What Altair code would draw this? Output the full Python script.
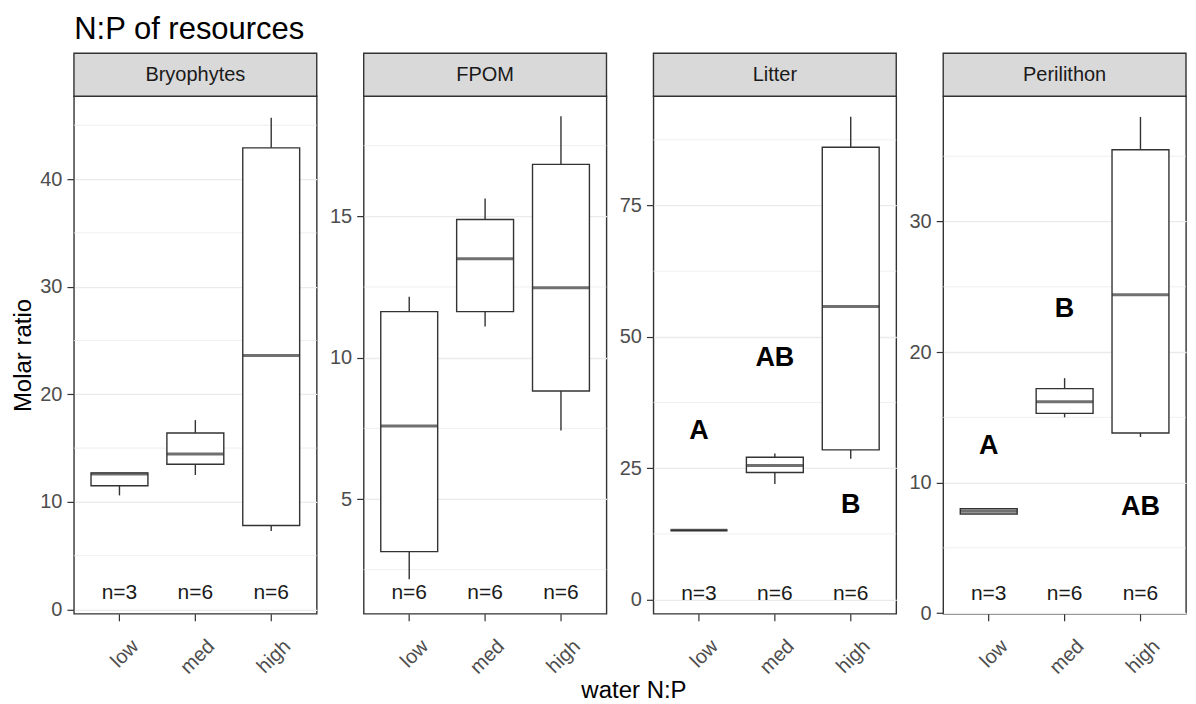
import altair as alt
import pandas as pd

FONT = "Liberation Sans"
groups = ["low", "med", "high"]
panel_names = ["Bryophytes", "FPOM", "Litter", "Perilithon"]

# Box statistics: lower whisker, Q1, median, Q3, upper whisker
bryo_lower = [10.6, 12.5, 7.3]
bryo_q1 = [11.5, 13.5, 7.8]
bryo_median = [12.6, 14.45, 23.6]
bryo_q3 = [12.7, 16.4, 42.9]
bryo_upper = [12.7, 17.6, 45.7]

fpom_lower = [2.16, 11.1, 7.42]
fpom_q1 = [3.14, 11.63, 8.82]
fpom_median = [7.58, 13.5, 12.47]
fpom_q3 = [11.63, 14.89, 16.84]
fpom_upper = [12.16, 15.63, 18.54]

litter_lower = [13.2, 22.0, 26.8]
litter_q1 = [13.2, 24.2, 28.5]
litter_median = [13.2, 25.5, 55.8]
litter_q3 = [13.2, 27.1, 86.1]
litter_upper = [13.2, 27.8, 91.9]

peri_lower = [7.6, 15.0, 13.5]
peri_q1 = [7.6, 15.3, 13.8]
peri_median = [7.8, 16.2, 24.4]
peri_q3 = [8.0, 17.2, 35.5]
peri_upper = [8.0, 18.0, 38.0]

# sample sizes and their label heights
bryo_n = [3, 6, 6]
fpom_n = [6, 6, 6]
litter_n = [3, 6, 6]
peri_n = [3, 6, 6]
n_label_y = [1.54, 1.67, 1.06, 1.5]

# significance letters
litter_letters = ["A", "AB", "B"]
litter_letter_y = [32.0, 45.9, 18.0]
peri_letters = ["A", "B", "AB"]
peri_letter_y = [12.8, 23.3, 8.1]

# axis domains and ticks
domains = [[-0.4, 47.7], [0.94, 19.25], [-2.7, 95.8], [-0.05, 39.6]]
major_ticks = [[0, 10, 20, 30, 40], [5, 10, 15], [0, 25, 50, 75], [0, 10, 20, 30]]
minor_ticks = [[5, 15, 25, 35, 45], [2.5, 7.5, 12.5, 17.5], [12.5, 37.5, 62.5, 87.5], [5, 15, 25, 35]]

W = 243
H = 518
STRIP = 43
GAP = 47
BOX_W = W / 3.2 * 0.75


def make_panel(i, lower, q1, med, q3, upper, ns, letters=None, letter_y=None):
    name = panel_names[i]
    df = pd.DataFrame({
        "group": groups, "lower": lower, "q1": q1, "median": med,
        "q3": q3, "upper": upper,
        "nlab": [f"n={n}" for n in ns],
        "ny": [n_label_y[i]] * 3,
    })
    yscale = alt.Scale(domain=domains[i], nice=False, zero=False)
    xscale = alt.Scale(domain=groups, paddingInner=0.25, paddingOuter=0.225)

    x_axis_kwargs = dict(
        labelAngle=315, labelFontSize=20, labelColor="#4D4D4D", labelFont=FONT,
        tickSize=7, tickColor="#333333", tickWidth=1.2, domain=False, grid=False,
        labelPadding=15, labelOffset=9,
    )
    if i == 1:
        x_axis = alt.Axis(title="water N:P", titleFontSize=24, titleFont=FONT,
                          titleFontWeight="normal", titleColor="#000000",
                          titleX=(635 - 75) - (W + GAP), titleY=84, titleBaseline="alphabetic",
                          titleAlign="center", **x_axis_kwargs)
    else:
        x_axis = alt.Axis(title=None, **x_axis_kwargs)

    y_axis_kwargs = dict(
        values=major_ticks[i], labelFontSize=20, labelColor="#4D4D4D", labelFont=FONT,
        tickSize=7, tickColor="#333333", tickWidth=1.2, domain=False,
        grid=True, gridColor="#EBEBEB", gridWidth=1.3, labelPadding=5,
        minExtent=30, maxExtent=30,
    )
    if i == 0:
        y_axis = alt.Axis(title="Molar ratio", titleFontSize=24, titleFont=FONT,
                          titleFontWeight="normal", titleColor="#000000",
                          titleAngle=270, titleX=-43, titleY=H / 2,
                          titleBaseline="alphabetic", titleAlign="center", **y_axis_kwargs)
    else:
        y_axis = alt.Axis(title=None, **y_axis_kwargs)

    X = alt.X("group:N", scale=xscale, sort=groups, axis=x_axis)

    def Y(field):
        return alt.Y(field, scale=yscale, axis=y_axis)

    base = alt.Chart(df)
    whisk = base.mark_rule(color="#333333", strokeWidth=1.4).encode(
        x=X, y=Y("lower:Q"), y2="upper:Q",
    )
    minor = alt.Chart(pd.DataFrame({"v": minor_ticks[i]})).mark_rule(
        color="#EBEBEB", strokeWidth=0.8
    ).encode(y=Y("v:Q"))
    box = base.mark_bar(fill="white", stroke="#333333", strokeWidth=1.4).encode(
        x=X, y=Y("q1:Q"), y2="q3:Q",
    )
    mid = base.mark_tick(color="#333333", thickness=3, size=BOX_W).encode(
        x=X, y=Y("median:Q"),
    )
    ntext = base.mark_text(fontSize=21, font=FONT, color="#1A1A1A", baseline="middle").encode(
        x=X, y=Y("ny:Q"), text="nlab:N",
    )
    layers = [minor, whisk, box, mid, ntext]
    if letters is not None:
        ldf = pd.DataFrame({"group": groups, "lab": letters, "ly": letter_y})
        lt = alt.Chart(ldf).mark_text(fontSize=27, font=FONT, fontWeight="bold",
                                      color="#000000", baseline="middle").encode(
            x=X, y=Y("ly:Q"), text="lab:N",
        )
        layers.append(lt)

    one = pd.DataFrame({"k": [0]})
    strip = alt.Chart(one).mark_rect(fill="#D9D9D9", stroke="#333333", strokeWidth=1.4).encode(
        x=alt.value(0), x2=alt.value(W), y=alt.value(-STRIP), y2=alt.value(0)
    )
    strip_text = alt.Chart(one).mark_text(fontSize=20, font=FONT, color="#1A1A1A",
                                          baseline="middle", align="center").encode(
        x=alt.value(W / 2), y=alt.value(-STRIP / 2), text=alt.value(name)
    )
    layers += [strip, strip_text]
    return alt.layer(*layers).properties(width=W, height=H)


p1 = make_panel(0, bryo_lower, bryo_q1, bryo_median, bryo_q3, bryo_upper, bryo_n)
p2 = make_panel(1, fpom_lower, fpom_q1, fpom_median, fpom_q3, fpom_upper, fpom_n)
p3 = make_panel(2, litter_lower, litter_q1, litter_median, litter_q3, litter_upper, litter_n,
                litter_letters, litter_letter_y)
p4 = make_panel(3, peri_lower, peri_q1, peri_median, peri_q3, peri_upper, peri_n,
                peri_letters, peri_letter_y)

chart = alt.hconcat(p1, p2, p3, p4, spacing=GAP, bounds="flush").properties(
    title=alt.TitleParams("N:P of resources", anchor="start", fontSize=31, font=FONT,
                          fontWeight="normal", color="#000000", dx=63, dy=-2, offset=4),
    background="white",
    padding={"left": 3, "top": 5, "right": 0, "bottom": 10},
).configure_view(stroke="#333333", strokeWidth=1.4)

chart.save("out.html", embed_options={"renderer": "svg", "actions": False})
